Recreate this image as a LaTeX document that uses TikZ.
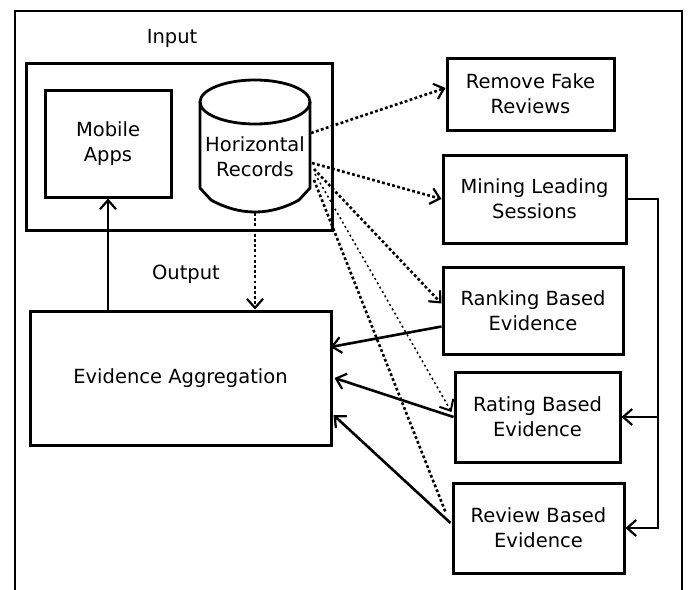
\documentclass[tikz,border=0pt]{standalone}
\usepackage{fontspec}
\setmainfont{DejaVu Sans}
\usetikzlibrary{arrows.meta}
\begin{document}
\begin{tikzpicture}[x=1pt,y=-1pt,
  box/.style={draw,line width=3pt,align=center,inner sep=0pt},
  conn/.style={line width=2.6pt,-{Straight Barb[length=9pt,width=16pt,line width=2.2pt]}},
  dots/.style={conn,dash pattern=on 2.8pt off 2.4pt},
  thindots/.style={line width=1.5pt,dash pattern=on 2pt off 3pt,-{Straight Barb[length=9pt,width=16pt,line width=2pt]}},
  every node/.style={font=\fontsize{19.5}{25}\selectfont}]
\useasboundingbox[fill=white] (0,0) rectangle (688,589);
\draw[line width=2.8pt] (15,600) -- (15,11) -- (682,11) -- (682,600);
% input side
\node at (172,38) {Input};
\node at (186,274) {Output};
\node[box,minimum width=306,minimum height=167] (input) at (179,146.5) {};
\node[box,minimum width=126,minimum height=107] (apps) at (108,143.5) {Mobile\\Apps};
\draw[line width=2.8pt] (255,102) ellipse[x radius=55,y radius=22];
\draw[line width=2.8pt] (200,102) -- (200,188) -- (211,200)
  .. controls (240,216) and (270,216) .. (299,200) -- (310,188) -- (310,102);
\node[align=center] (rec) at (255,157) {Horizontal\\Records};
\coordinate (recbot) at (255,213);
\coordinate (r1) at (311,133);
\coordinate (r2) at (312,163);
\coordinate (r3) at (314,169);
\coordinate (r4) at (315,174);
\coordinate (r5) at (314,180);
% right side
\node[box,minimum width=167,minimum height=72] (fake) at (530.5,94) {Remove Fake\\Reviews};
\node[box,minimum width=183,minimum height=88] (mining) at (534.5,199) {Mining Leading\\Sessions};
\node[box,minimum width=180,minimum height=87] (ranking) at (533,310.5) {Ranking Based\\Evidence};
\node[box,minimum width=165,minimum height=90] (rating) at (537.5,417) {Rating Based\\Evidence};
\node[box,minimum width=171,minimum height=90] (review) at (538.5,528) {Review Based\\Evidence};
\node[box,minimum width=301,minimum height=134] (agg) at (180.5,378) {Evidence Aggregation};
% connectors
\draw[conn] (agg.north -| apps.south) -- (apps.south);
\draw[dots] (recbot) -- (recbot |- agg.north);
\draw[dots] (r1) -- ([yshift=6pt]fake.west);
\draw[dots] (r2) -- (mining.west);
\draw[dots] (r3) -- ([yshift=7pt]ranking.west);
\draw[thindots] (r4) -- ([yshift=5pt,xshift=-2pt]rating.west);
\draw[dots,-] (r5) -- ([yshift=16pt,xshift=-6pt]review.west);
\draw[conn] ([yshift=-16pt]ranking.west) -- ([yshift=31pt,xshift=-2pt]agg.east);
\draw[conn] (rating.west) -- ([xshift=2pt]agg.east);
\draw[conn] ([yshift=5pt,xshift=-1pt]review.west) -- ([yshift=-37pt,xshift=1pt]agg.east);
\coordinate (bus) at (658,199);
\draw[conn] (mining.east) -- (bus) |- (review.east);
\draw[conn] (bus |- rating.east) -- (rating.east);
\end{tikzpicture}
\end{document}
